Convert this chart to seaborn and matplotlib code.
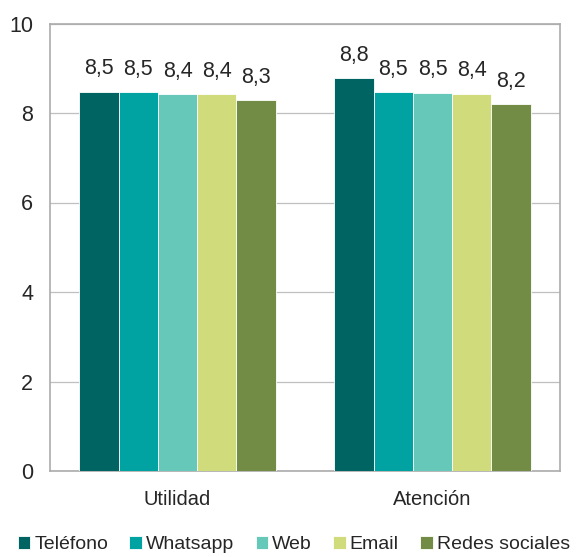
import numpy as np
import pandas as pd
import seaborn as sns
import matplotlib.pyplot as plt

# datos
categorias = ['Utilidad', 'Atención']
canales = ['Teléfono', 'Whatsapp', 'Web', 'Email', 'Redes sociales']
utilidad = [8.47, 8.46, 8.42, 8.42, 8.29]
atencion = [8.78, 8.46, 8.45, 8.43, 8.19]
etiquetas_utilidad = ['8,5', '8,5', '8,4', '8,4', '8,3']
etiquetas_atencion = ['8,8', '8,5', '8,5', '8,4', '8,2']
colores = ['#006462', '#00A2A2', '#66C8B8', '#D0DB7C', '#728B45']

df = pd.DataFrame({
    'categoria': np.repeat(categorias, len(canales)),
    'canal': canales * 2,
    'valor': utilidad + atencion,
})

sns.set_style('white')
plt.rcParams['font.family'] = ['Liberation Sans', 'DejaVu Sans']

fig, ax = plt.subplots(figsize=(5.79, 5.57), dpi=100)
fig.subplots_adjust(left=50/579, right=560/579, top=1-23.5/557, bottom=1-471/557)

sns.barplot(data=df, x='categoria', y='valor', hue='canal', palette=colores,
            width=0.77, saturation=1, edgecolor='white', linewidth=0.6,
            ax=ax, zorder=3)

# etiquetas de valores con coma decimal
for cont, i in zip(ax.containers, range(len(canales))):
    ax.bar_label(cont, labels=[etiquetas_utilidad[i], etiquetas_atencion[i]],
                 padding=9, fontsize=15.5)

ax.set_ylim(0, 10)
ax.set_yticks([0, 2, 4, 6, 8, 10])
ax.yaxis.grid(True, color='#BFBFBF', linewidth=0.9, zorder=0)
ax.set_axisbelow(True)
ax.set_xlabel('')
ax.set_ylabel('')
ax.tick_params(axis='x', labelsize=14.5, length=0, pad=14)
ax.tick_params(axis='y', labelsize=15.5, length=0, pad=12)
for s in ax.spines.values():
    s.set_color('#ABABAB')
    s.set_linewidth(1.2)

ax.legend(loc='upper center', bbox_to_anchor=(0.478, -0.127), ncol=5,
          frameon=False, fontsize=14, handlelength=0.65, handleheight=0.65,
          handletextpad=0.2, columnspacing=1.1, borderaxespad=0)

plt.savefig('out.png', dpi=100)
